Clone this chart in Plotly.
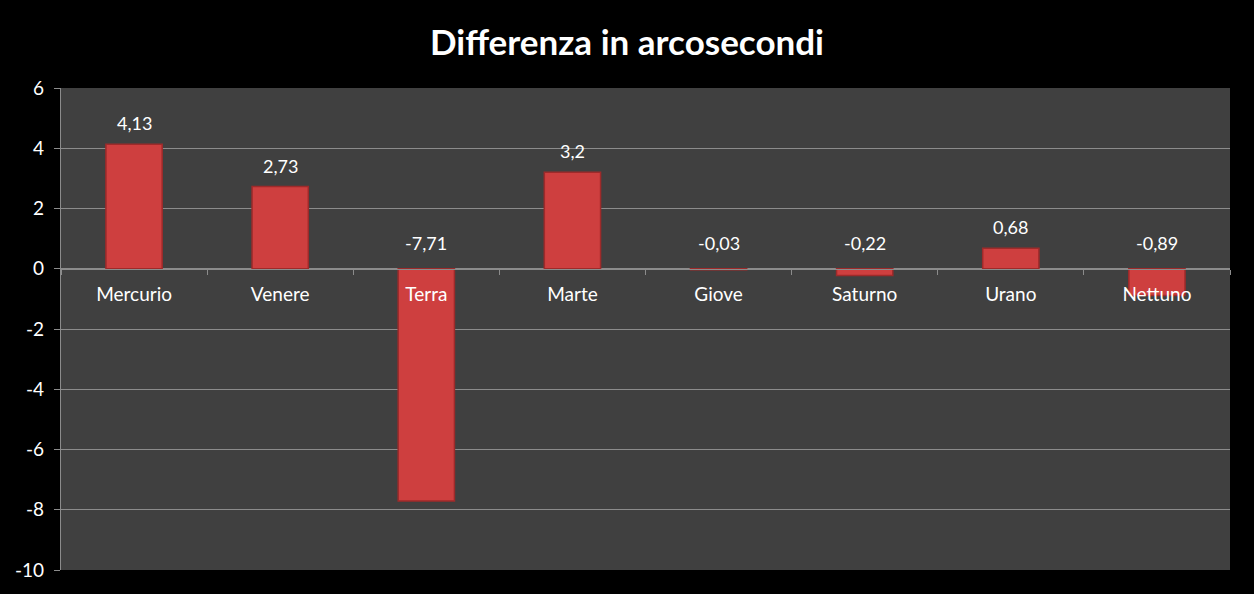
import plotly.graph_objects as go

categories = ["Mercurio", "Venere", "Terra", "Marte", "Giove", "Saturno", "Urano", "Nettuno"]
values = [4.13, 2.73, -7.71, 3.2, -0.03, -0.22, 0.68, -0.89]
value_labels = ["4,13", "2,73", "-7,71", "3,2", "-0,03", "-0,22", "0,68", "-0,89"]
y_ticks = [6, 4, 2, 0, -2, -4, -6, -8, -10]

FONT = "Lato, Carlito, Calibri, sans-serif"

fig = go.Figure()
fig.add_trace(go.Bar(
    x=categories, y=values,
    marker=dict(color="#CE3F3F", line=dict(color="#9E2A2A", width=1.5)),
    width=0.385,
    hoverinfo="x+y",
))

for c, v, t in zip(categories, values, value_labels):
    fig.add_annotation(
        x=c, y=max(v, 0), text=t, showarrow=False,
        yanchor="bottom", yshift=8 if v >= 0 else 13,
        font=dict(family=FONT, size=18, color="white"),
    )

fig.update_layout(
    width=1254, height=594,
    paper_bgcolor="black", plot_bgcolor="#404040",
    margin=dict(l=61, r=24, t=88, b=24),
    title=dict(text="<b>Differenza in arcosecondi</b>", x=0.5, xanchor="center",
               y=0.928, yanchor="middle",
               font=dict(family=FONT, size=35, color="white")),
    showlegend=False,
    bargap=0.6,
    xaxis=dict(
        type="category", anchor="free", position=0.625,
        showline=True, linecolor="#8C8C8C", linewidth=1.2,
        ticks="outside", tickson="boundaries", ticklen=5, tickcolor="#8C8C8C",
        ticklabelstandoff=8,
        showgrid=False, zeroline=False,
        tickfont=dict(family=FONT, size=19, color="white"),
        layer="above traces",
    ),
    yaxis=dict(
        range=[-10, 6], tickvals=y_ticks, ticktext=[str(v) for v in y_ticks],
        showgrid=True, gridcolor="#8C8C8C", gridwidth=1.2,
        zeroline=True, zerolinecolor="#8C8C8C", zerolinewidth=1.2,
        showline=True, linecolor="#8C8C8C", linewidth=1.2,
        ticks="outside", ticklen=6, tickcolor="#8C8C8C",
        ticklabelstandoff=6,
        tickfont=dict(family=FONT, size=19, color="white"),
    ),
)

fig.write_html(
    "out.html",
    config={"displayModeBar": False},
    post_script="document.body.style.margin='0';document.body.style.background='black';",
)
